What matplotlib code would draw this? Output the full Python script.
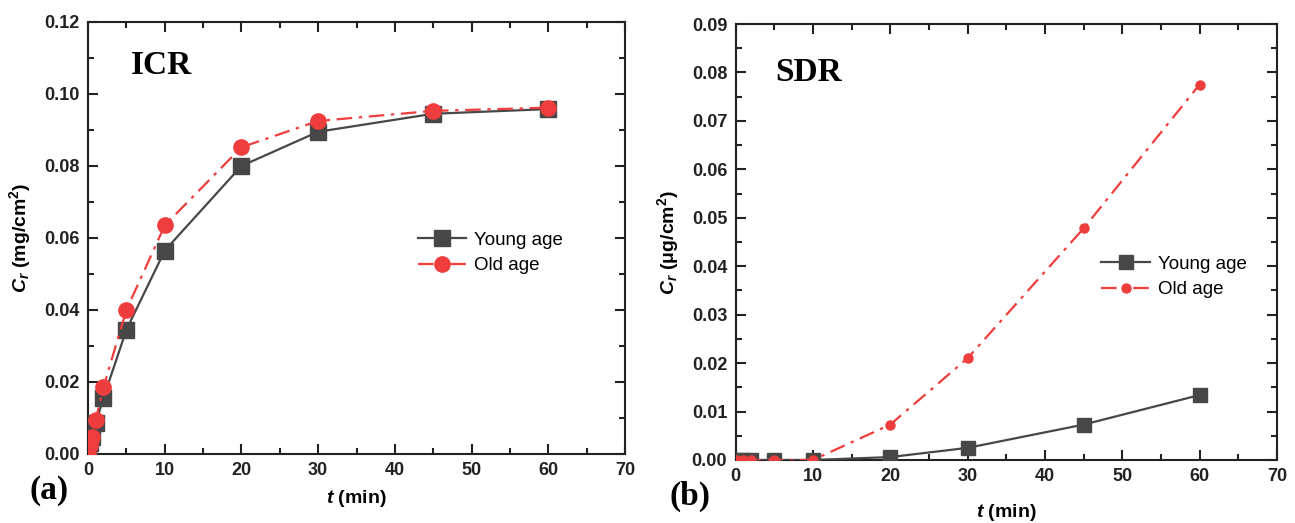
import numpy as np
import matplotlib
matplotlib.use("Agg")
import matplotlib.pyplot as plt
from matplotlib.ticker import MultipleLocator, FormatStrFormatter

# ICR data (panel a)
t_icr = [0, 0.25, 0.5, 1, 2, 5, 10, 20, 30, 45, 60]
young_icr = [0.0, 0.003, 0.0047, 0.0085, 0.0155, 0.0345, 0.0565, 0.0800, 0.0895, 0.0945, 0.0958]
old_icr = [0.0, 0.0025, 0.0047, 0.0095, 0.0185, 0.0400, 0.0635, 0.0852, 0.0925, 0.0953, 0.0962]

# SDR data (panel b)
t_sdr = [0, 1, 2, 5, 10, 20, 30, 45, 60]
young_sdr = [0.0, 0.0, 0.0, 0.0, 0.0, 0.0006, 0.0025, 0.0073, 0.0134]
old_sdr = [0.0, 0.0, 0.0, 0.0, 0.0, 0.0073, 0.0210, 0.0478, 0.0775]

GRAY = "#474747"
RED = "#EF3D3D"
SANS = "Liberation Sans"
SERIF = "Liberation Serif"

plt.rcParams["font.family"] = SANS
plt.rcParams["font.weight"] = "bold"
plt.rcParams["mathtext.fontset"] = "custom"
plt.rcParams["mathtext.bf"] = "Liberation Sans:bold"
plt.rcParams["mathtext.bfit"] = "Liberation Sans:bold:italic"
plt.rcParams["mathtext.it"] = "Liberation Sans:bold:italic"
plt.rcParams["mathtext.rm"] = "Liberation Sans:bold"

fig = plt.figure(figsize=(12.95, 5.23), dpi=100)
ax1 = fig.add_axes([0.068, 0.132, 0.4146, 0.826])
ax2 = fig.add_axes([0.568, 0.1205, 0.418, 0.8335])


def style_axis(ax, ymax, ystep, xpad):
    ax.set_xlim(0, 70)
    ax.set_ylim(0, ymax)
    ax.xaxis.set_major_locator(MultipleLocator(10))
    ax.xaxis.set_minor_locator(MultipleLocator(5))
    ax.yaxis.set_major_locator(MultipleLocator(ystep))
    ax.yaxis.set_minor_locator(MultipleLocator(ystep / 2))
    ax.yaxis.set_major_formatter(FormatStrFormatter("%.2f"))
    ax.tick_params(which="both", direction="in", top=True, right=True,
                   width=1.5, colors="#222222", labelsize=13, pad=6)
    ax.tick_params(which="major", length=7)
    ax.tick_params(which="minor", length=4)
    for sp in ax.spines.values():
        sp.set_linewidth(1.5)
        sp.set_color("#222222")
    for lab in ax.get_xticklabels() + ax.get_yticklabels():
        lab.set_fontweight("bold")
    ax.set_xlabel(r"$\boldsymbol{t}$ (min)", fontsize=14, fontweight="bold", labelpad=xpad)


dashdot = (0, (7, 3, 1.5, 3))
leg_prop = {"family": SANS, "weight": "normal", "size": 13.5}

# panel a
ax1.plot(t_icr, young_icr, color=GRAY, lw=1.6, marker="s", ms=11,
         label="Young age", zorder=3)
ax1.plot(t_icr, old_icr, color=RED, lw=1.6, ls=dashdot, marker="o",
         ms=11, label="Old age", zorder=4)
style_axis(ax1, 0.12, 0.02, 6)
ax1.set_ylabel(r"$\boldsymbol{C_r}$ (mg/cm$^{\mathbf{2}}$)", fontsize=14,
               fontweight="bold", labelpad=8)
ax1.text(0.08, 0.9, "ICR", transform=ax1.transAxes, family=SERIF,
         fontsize=24, fontweight="bold", va="center")
ax1.legend(loc="center left", bbox_to_anchor=(0.6, 0.465), frameon=False,
           handlelength=2.6, handletextpad=0.4, borderaxespad=0,
           labelspacing=0.45, prop=leg_prop)

# panel b
ax2.plot(t_sdr, young_sdr, color=GRAY, lw=1.6, marker="s", ms=10,
         label="Young age", zorder=3)
ax2.plot(t_sdr, old_sdr, color=RED, lw=1.6, ls=dashdot, marker="o",
         ms=6.5, label="Old age", zorder=4)
style_axis(ax2, 0.09, 0.01, 12)
ax2.set_ylabel(r"$\boldsymbol{C_r}$ ($\mathbf{\mu}$g/cm$^{\mathbf{2}}$)", fontsize=14,
               fontweight="bold", labelpad=8)
ax2.text(0.073, 0.89, "SDR", transform=ax2.transAxes, family=SERIF,
         fontsize=24, fontweight="bold", va="center")
ax2.legend(loc="center left", bbox_to_anchor=(0.662, 0.42), frameon=False,
           handlelength=2.6, handletextpad=0.4, borderaxespad=0,
           labelspacing=0.45, prop=leg_prop)

fig.text(0.023, 0.063, "(a)", family=SERIF, fontsize=24, fontweight="bold", va="center")
fig.text(0.517, 0.05, "(b)", family=SERIF, fontsize=24, fontweight="bold", va="center")

fig.savefig("out.png", dpi=100)
